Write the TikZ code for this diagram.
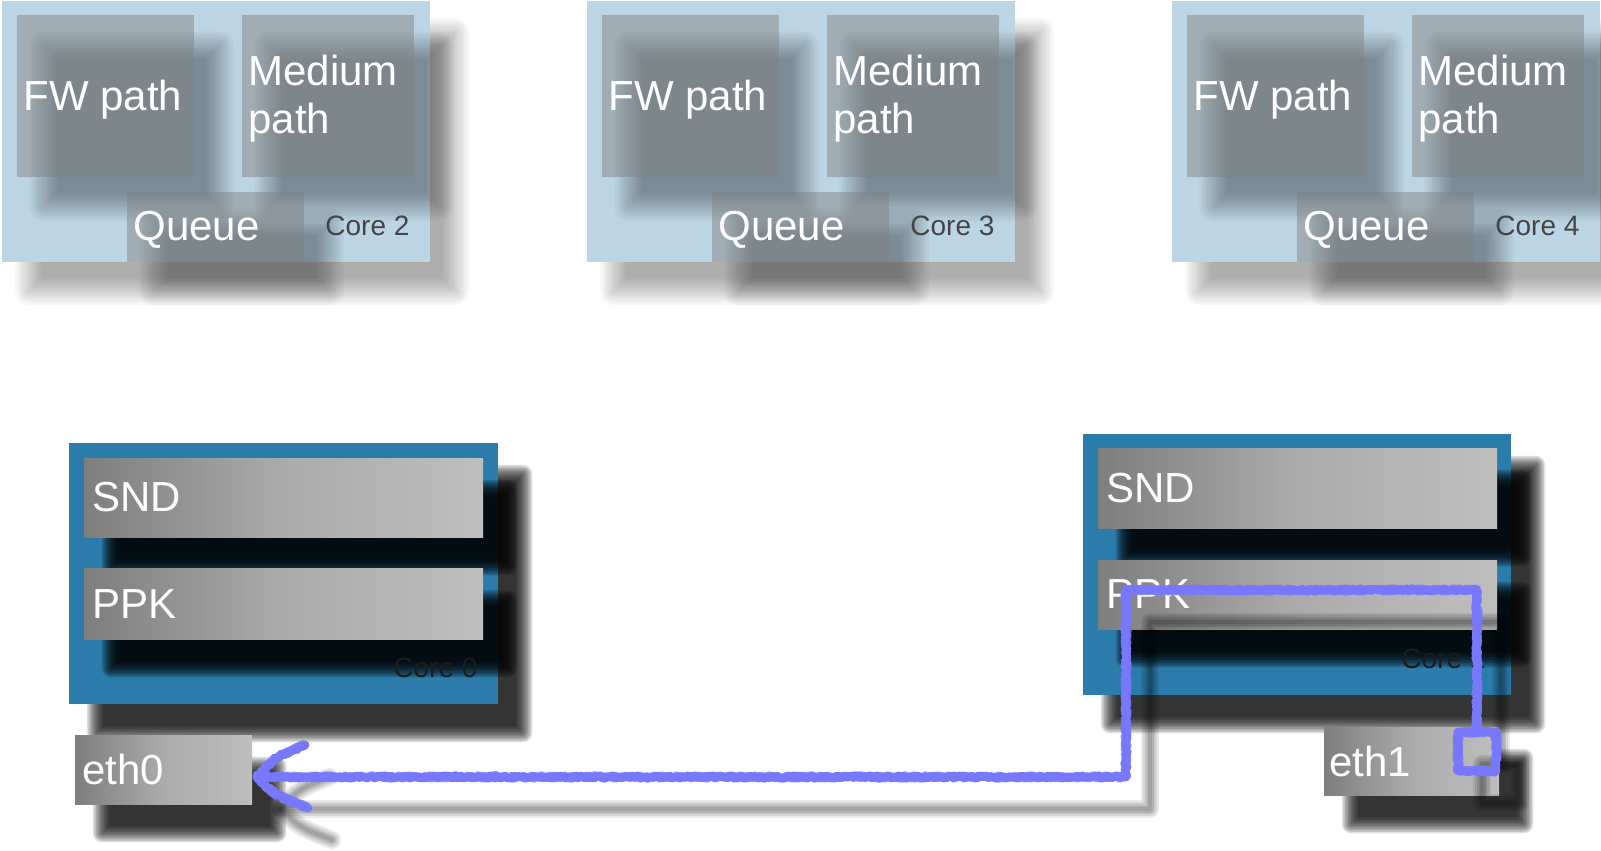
\documentclass[tikz,border=0pt]{standalone}
\usepackage{fontspec}
\setmainfont{Liberation Sans}
\usetikzlibrary{decorations.pathmorphing}

\definecolor{paleblue}{HTML}{BCD5E4}
\definecolor{deepblue}{HTML}{2B7BAB}
\definecolor{boxgrey}{HTML}{7F7F7F}
\definecolor{barleft}{HTML}{7E7E7E}
\definecolor{barmid}{HTML}{ABABAB}
\definecolor{barright}{HTML}{BEBEBE}
\definecolor{chalk}{HTML}{7878FF}
\definecolor{labelgrey}{HTML}{444444}
\definecolor{labeldark}{HTML}{1C1C1C}

\tikzset{
  rect/.style 2 args={anchor=north west, inner sep=0pt, outer sep=0pt,
    minimum width={#1*0.5pt}, minimum height={#2*0.5pt}},
  panel/.style={fill=boxgrey, fill opacity=0.46},
  bar/.style={left color=barleft, right color=barright, middle color=barmid},
  bigtext/.style={font=\fontsize{21pt}{24pt}\selectfont, text=white, inner sep=0pt},
  corelabel/.style={font=\fontsize{14pt}{16pt}\selectfont, text=#1, inner sep=0pt, anchor=base west},
  chalkline/.style={draw=chalk, line width=4.4pt, line join=round, line cap=round,
    decorate, decoration={random steps, segment length=0.9pt, amplitude=0.55pt}},
  chalkedge/.style={draw=chalk, draw opacity=0.8, line width=3.6pt, line join=round, line cap=round,
    decorate, decoration={random steps, segment length=0.6pt, amplitude=1.1pt}},
  ghostline/.style={draw=black, draw opacity=0.085, line width=#1, line join=round, line cap=round},
}

% soft drop shadow of a box: x, y, width, height (pixels), opacity, blur radius (pixels)
\newcommand\castshadow[6]{%
  \pgfmathsetmacro\shA{1-(1-#5)^(1/12)}%
  \foreach \k in {1,...,12}{%
    \pgfmathsetmacro\shE{#6*(1-2*(\k-0.5)/12)}%
    \pgfmathsetmacro\shC{max(\shE,0)*0.5+0.5}%
    \fill[black, fill opacity=\shA, rounded corners=\shC pt]
      ({#1+26-\shE},{#2+30-\shE}) rectangle ({#1+#3+26+\shE},{#2+#4+30+\shE});
  }%
}

\begin{document}
\begin{tikzpicture}[x=0.5pt, y=-0.5pt]
\useasboundingbox (0,0) rectangle (1601,851);

% upper row: cores 2, 3 and 4
\foreach \dx/\n in {0/2, 585/3, 1170/4}{
  \castshadow{\dx+2}{1}{428}{261}{0.32}{14}
  \node[rect={428}{261}, fill=paleblue] (core\n) at ({\dx+2},1) {};
  \castshadow{\dx+17}{15}{177}{162}{0.33}{15}
  \castshadow{\dx+242}{15}{172}{162}{0.33}{15}
  \castshadow{\dx+127}{192}{177}{70}{0.33}{15}
  \node[rect={177}{162}, panel] (fw\n) at ({\dx+17},15) {};
  \node[rect={172}{162}, panel] (med\n) at ({\dx+242},15) {};
  \node[rect={177}{70}, panel] (q\n) at ({\dx+127},192) {};
  \node[bigtext, anchor=base west] (fwt\n) at ({\dx+23},110) {FW path};
  \node[bigtext, anchor=north west, align=left] (medt\n) at ({\dx+248},55) {Medium\\path};
  \node[bigtext, anchor=base west] (qt\n) at ({\dx+133},240) {Queue};
  \node[corelabel=labelgrey] (cl\n) at ({\dx+325},235) {Core \n};
}

% lower row: cores 0 and 1
\castshadow{69}{443}{429}{261}{0.8}{9}
\node[rect={429}{261}, fill=deepblue] (core0) at (69,443) {};
\castshadow{84}{458}{399}{79}{0.88}{9}
\castshadow{84}{568}{399}{71}{0.88}{9}
\node[rect={399}{79}, bar] (snd0) at (84,458) {};
\node[rect={399}{71}, bar] (ppk0) at (84,568) {};
\node[bigtext, anchor=base west] (sndt0) at (92,511) {SND};
\node[bigtext, anchor=base west] (ppkt0) at (92,618) {PPK};
\node[corelabel=labeldark] (cl0) at (393,677) {Core 0};

\castshadow{1083}{434}{428}{261}{0.8}{9}
\node[rect={428}{261}, fill=deepblue] (core1) at (1083,434) {};
\castshadow{1098}{448}{399}{80}{0.88}{9}
\castshadow{1098}{560}{399}{69}{0.88}{9}
\node[rect={399}{80}, bar] (snd1) at (1098,448) {};
\node[rect={399}{69}, bar] (ppk1) at (1098,560) {};
\node[bigtext, anchor=base west] (sndt1) at (1106,502) {SND};
\node[bigtext, anchor=base west] (ppkt1) at (1106,608) {PPK};
\node[corelabel=labeldark] (cl1) at (1401,668) {Core 1};

% interfaces
\castshadow{75}{735}{177}{69}{0.8}{9}
\node[rect={177}{69}, bar] (eth0) at (75,735) {};
\node[bigtext, anchor=base west] (etht0) at (82,784) {eth0};
\castshadow{1324}{727}{175}{68}{0.8}{9}
\node[rect={175}{68}, bar] (eth1) at (1324,727) {};
\node[bigtext, anchor=base west] (etht1) at (1329,776) {eth1};

% packet route from eth1 through core 1 to eth0
\node[rect={38}{39}] (port) at (1458,732) {};
\coordinate (turnA) at (1477,590);
\coordinate (turnB) at (1126,590);
\coordinate (turnC) at (1126,777);
\coordinate (tip) at (257,777);
\coordinate (wingU) at (305,745);
\coordinate (wingD) at (308,808);

% soft shadow of the route
\begin{scope}[transform canvas={xshift=12pt, yshift=-16pt}]
  \foreach \w in {9pt,7pt,5pt,3.5pt,2pt}{
    \draw[ghostline=\w] (port.north) -- (turnA) -- (turnB) -- (turnC) -- (tip);
    \draw[ghostline=\w] (wingU) .. controls (275,757) .. (tip) .. controls (275,795) .. (wingD);
    \draw[ghostline=\w] (port.north west) rectangle (port.south east);
  }
\end{scope}

% the route itself, in chalk
\foreach \s in {chalkline, chalkedge}{
  \draw[\s] (port.north west) rectangle (port.south east);
  \draw[\s] (port.north) -- (turnA) -- (turnB) -- (turnC) -- (tip);
  \draw[\s] (wingU) .. controls (275,757) .. (tip) .. controls (275,795) .. (wingD);
}
\end{tikzpicture}
\end{document}
